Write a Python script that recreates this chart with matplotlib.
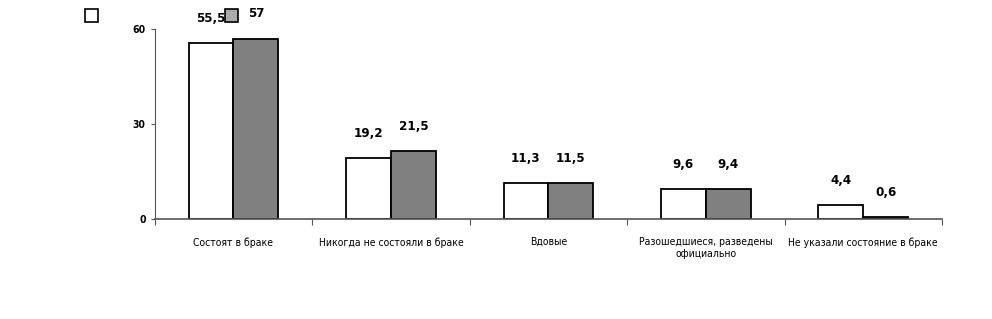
import matplotlib
matplotlib.use("Agg")
import matplotlib.pyplot as plt
import numpy as np
from matplotlib.patches import Rectangle

plt.rcParams['font.family'] = ['DejaVu Sans']
plt.rcParams['font.stretch'] = 'condensed'

categories = ["Состоят в браке", "Никогда не состояли в браке", "Вдовые",
              "Разошедшиеся, разведены\nофициально", "Не указали состояние в браке"]
series_a = [55.5, 19.2, 11.3, 9.6, 4.4]
series_b = [57, 21.5, 11.5, 9.4, 0.6]
labels_a = ["55,5", "19,2", "11,3", "9,6", "4,4"]
labels_b = ["57", "21,5", "11,5", "9,4", "0,6"]
yticks = [0, 30, 60]

fig = plt.figure(figsize=(9.92, 3.19), dpi=100)
ax = fig.add_axes([0.156, 0.3135, 0.7936, 0.5955])

x = np.arange(len(categories))
w = 0.285
ax.bar(x - w/2, series_a, w, color="white", edgecolor="black", linewidth=1.3)
ax.bar(x + w/2, series_b, w, color="#808080", edgecolor="black", linewidth=1.3)

for xi, v, t in zip(x, series_a, labels_a):
    ax.annotate(t, (xi - w/2, v), xytext=(0, 13), textcoords="offset points",
                ha="center", va="bottom", fontsize=9.5, fontweight="bold")
for xi, v, t in zip(x, series_b, labels_b):
    ax.annotate(t, (xi + w/2, v), xytext=(0, 13), textcoords="offset points",
                ha="center", va="bottom", fontsize=9.5, fontweight="bold")

ax.set_xlim(-0.5, len(categories) - 0.5)
ax.set_ylim(0, 60)
ax.set_yticks(yticks)
ax.set_yticklabels([str(t) for t in yticks], fontsize=7.5, fontweight="bold")
ax.set_xticks(np.arange(-0.5, len(categories)), minor=False)
ax.set_xticklabels([])
ax.set_xticks(x, minor=True)
ax.set_xticklabels(categories, minor=True, fontsize=7.5)
ax.tick_params(axis="x", which="minor", length=0, pad=13)
ax.tick_params(axis="x", which="major", length=4, direction="out", color="#555555")
ax.tick_params(axis="y", length=3, direction="out", color="#555555")
for s in ["top", "right"]:
    ax.spines[s].set_visible(False)
ax.spines["left"].set_color("#555555")
ax.spines["bottom"].set_color("#555555")
ax.spines["bottom"].set_linewidth(1.2)

fig.patches.append(Rectangle((85/992, 1 - 22/319), 13/992, 13/319, transform=fig.transFigure,
                             facecolor="white", edgecolor="black", linewidth=1.2))
fig.patches.append(Rectangle((225/992, 1 - 22/319), 13/992, 13/319, transform=fig.transFigure,
                             facecolor="#aaaaaa", edgecolor="black", linewidth=1.2))

fig.savefig("out.png", dpi=100)
